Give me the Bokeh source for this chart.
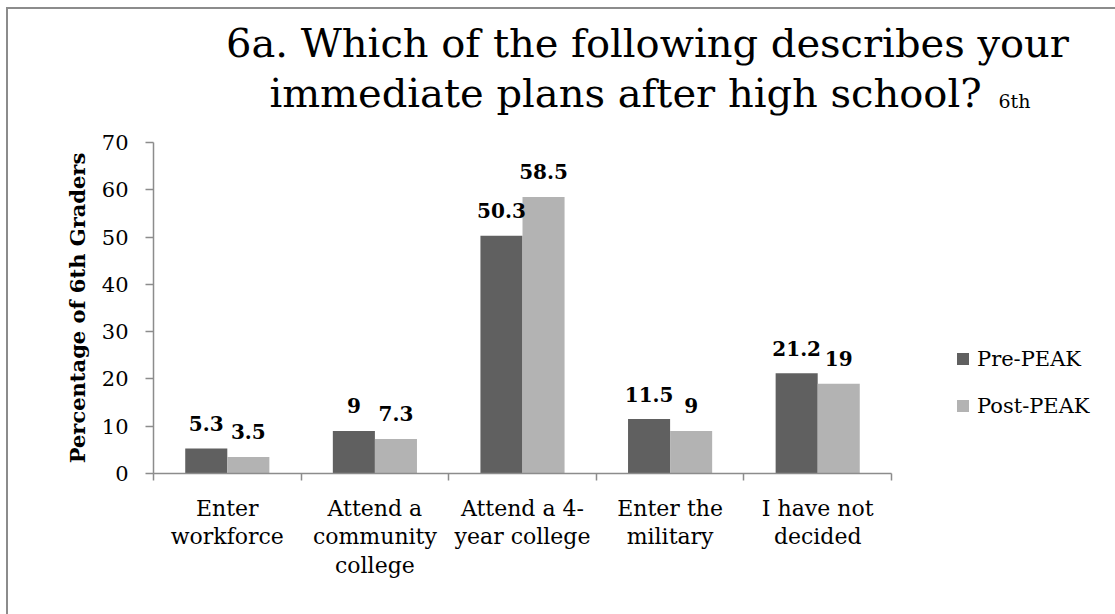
from bokeh.plotting import figure
from bokeh.layouts import column
from bokeh.models import Range1d, FixedTicker, Label, Legend, LegendItem, ColumnDataSource
from bokeh.transform import dodge
from bokeh.embed import file_html
from bokeh.resources import INLINE
from bokeh.core.properties import value

# ---- data ----
categories = ["Enter\nworkforce", "Attend a\ncommunity\ncollege", "Attend a 4-\nyear college",
              "Enter the\nmilitary", "I have not\ndecided"]
pre_peak = [5.3, 9, 50.3, 11.5, 21.2]
post_peak = [3.5, 7.3, 58.5, 9, 19]
series_names = ["Pre-PEAK", "Post-PEAK"]
y_ticks = [0, 10, 20, 30, 40, 50, 60, 70]
y_max = 70
title_line1 = "6a. Which of the following describes your"
title_line2 = "immediate plans after high school?"
title_suffix = "6th"
y_label = "Percentage of 6th Graders"

FONT = "DejaVu Serif"
PRE_COLOR = "#606060"
POST_COLOR = "#b3b3b3"
AXIS_COLOR = "#8c8c8c"

# ---- layout (page pixels) ----
OX, OY = 8, 9            # canvas origin on page (after css margin + border)
W, H = 1115 - OX, 614 - OY
TITLE_BOTTOM = 130       # page y where title figure ends
FL, FB = 153, 473        # frame left / bottom (page)
FT = 142                 # page y of value y_max
CAT_W = 147.6            # px per category

n = len(categories)
xs = [i + 0.5 for i in range(n)]
src = ColumnDataSource(dict(
    x=xs, pre=pre_peak, post=post_peak,
    pre_lbl=[f"{v:g}" for v in pre_peak],
    post_lbl=[f"{v:g}" for v in post_peak],
))

# ---- title figure (its frame gets aligned with the main frame's left edge) ----
th = TITLE_BOTTOM - OY
tf = figure(width=W, height=th, x_range=Range1d(0, W), y_range=Range1d(0, th),
            x_axis_type=None, y_axis_type=None, output_backend="svg", toolbar_location=None,
            min_border_left=0, min_border_right=0, min_border_top=0, min_border_bottom=0)
tf.xgrid.visible = False
tf.ygrid.visible = False
tf.outline_line_color = None


def tlabel(text, cx, base, size, align):
    # empirical shift: rendered alphabetic baseline sits ~0.4em below requested y
    return Label(x=cx - FL, y=TITLE_BOTTOM - (base - 0.4 * size), x_units="screen", y_units="screen",
                 text=text, text_align=align, text_baseline="alphabetic", text_font=FONT,
                 text_font_size=f"{size}px", text_color="black")


tf.add_layout(tlabel(title_line1, 647, 58, 40, "center"))
tf.add_layout(tlabel(title_line2, 625, 108, 40, "center"))
tf.add_layout(tlabel(title_suffix, 998, 108, 19, "left"))

# ---- main figure ----
mh = H - th
top_border = FT - TITLE_BOTTOM
frame_w = 1115 - FL
p = figure(width=W, height=mh,
           x_range=Range1d(0, frame_w / CAT_W), y_range=Range1d(0, y_max),
           output_backend="svg", toolbar_location=None,
           min_border_left=FL - OX, min_border_right=0, min_border_top=top_border,
           min_border_bottom=mh - top_border - (FB - FT))
p.xgrid.visible = False
p.ygrid.visible = False
p.outline_line_color = None

off = 0.1425
bw = 0.285
r1 = p.vbar(x=dodge("x", -off, range=p.x_range), top="pre", width=bw, source=src,
            fill_color=PRE_COLOR, line_color=None)
r2 = p.vbar(x=dodge("x", off, range=p.x_range), top="post", width=bw, source=src,
            fill_color=POST_COLOR, line_color=None)

for col, lbl, o in [("pre", "pre_lbl", -off), ("post", "post_lbl", off)]:
    p.text(x=dodge("x", o, range=p.x_range), y=col, text=lbl, source=src,
           text_align="center", text_baseline="alphabetic", y_offset=-25,
           text_font=value(FONT), text_font_style="bold", text_font_size="20px",
           text_color="black")

# y axis
ya = p.yaxis[0]
ya.ticker = FixedTicker(ticks=y_ticks, minor_ticks=[])
ya.axis_line_color = AXIS_COLOR
ya.axis_line_width = 1.5
ya.major_tick_line_color = AXIS_COLOR
ya.major_tick_line_width = 1.5
ya.major_tick_out = 8
ya.major_tick_in = 0
ya.major_label_standoff = 17
ya.major_label_text_font = FONT
ya.major_label_text_font_size = "21px"
ya.major_label_text_color = "black"
ya.axis_label = y_label
ya.axis_label_text_font = FONT
ya.axis_label_text_font_style = "bold"
ya.axis_label_text_font_size = "21px"
ya.axis_label_text_color = "black"
ya.axis_label_standoff = 9

# x axis
xa = p.xaxis[0]
xa.bounds = (0, n)
xa.ticker = FixedTicker(ticks=xs, minor_ticks=list(range(n + 1)))
xa.major_label_overrides = {x: c for x, c in zip(xs, categories)}
xa.axis_line_color = AXIS_COLOR
xa.axis_line_width = 1.5
xa.major_tick_out = 0
xa.major_tick_in = 0
xa.major_tick_line_color = None
xa.minor_tick_out = 7
xa.minor_tick_in = 0
xa.minor_tick_line_color = AXIS_COLOR
xa.minor_tick_line_width = 1.5
xa.major_label_standoff = 15
xa.major_label_text_font = FONT
xa.major_label_text_font_size = "22px"
xa.major_label_text_color = "black"
xa.major_label_text_line_height = 1.15

legend = Legend(items=[LegendItem(label=series_names[0], renderers=[r1]),
                       LegendItem(label=series_names[1], renderers=[r2])],
                location=(955 - FL, FB - 418),
                glyph_width=15, glyph_height=15, label_height=25, spacing=22,
                label_standoff=7, padding=0, margin=0,
                border_line_alpha=0, background_fill_alpha=0,
                label_text_font=FONT, label_text_font_size="21px", label_text_color="black")
p.add_layout(legend)

layout = column(tf, p, spacing=0)
layout.styles = {"border-top": "2px solid #8c8c8c", "border-left": "2px solid #8c8c8c",
                 "margin-left": "6px", "margin-top": "7px"}

open("out.html", "w").write(file_html(layout, INLINE))
